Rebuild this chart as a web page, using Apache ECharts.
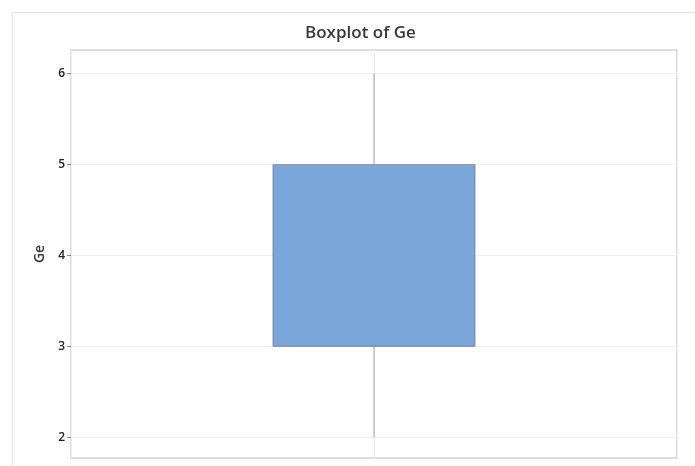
<!DOCTYPE html>
<html>
<head>
<meta charset="utf-8">
<script src="https://cdn.jsdelivr.net/npm/echarts@6/dist/echarts.min.js"></script>
<style>
  html, body { margin: 0; padding: 0; background: #fff; }
  #chart { width: 695px; height: 466px; }
</style>
</head>
<body>
<div id="chart"></div>
<script>
// data
var categories = ["Ge"];
// [min, Q1, median, Q3, max]
var boxValues = [[2, 3, 5, 5, 6]];
var yTicks = [2, 3, 4, 5, 6];

var chart = echarts.init(document.getElementById("chart"));

var boxData = boxValues.map(function (v, i) { return [i].concat(v); });

chart.setOption({
    animation: false,
    title: {
        text: "Boxplot of Ge",
        left: 300, top: 20,
        textStyle: {fontFamily: "Open Sans", fontSize: 17, fontWeight: 600, color: "#3a3a3a"}
    },
    graphic: [{
        type: "rect", left: 10, top: 10, z: -10,
        shape: {width: 700, height: 470},
        style: {fill: "none", stroke: "#e6e6e6", lineWidth: 1}
    }],
    grid: {left: 71, top: 50, right: 18, bottom: 8, show: true, borderColor: "#d4d4d4", borderWidth: 1.5},
    xAxis: [{
        type: "category", data: categories,
        axisLine: {show: false}, axisTick: {show: false}, axisLabel: {show: false}
    }, {
        type: "value", min: 0, max: 2, interval: 1,
        axisLine: {show: false}, axisTick: {show: false}, axisLabel: {show: false},
        splitLine: {show: true, lineStyle: {color: "#eeeeee"}}
    }],
    yAxis: {
        type: "value", min: 1.77, max: 6.26,
        name: "Ge", nameLocation: "middle", nameGap: 23, nameRotate: 90,
        nameTextStyle: {fontFamily: "Open Sans", fontSize: 14, fontWeight: 600, color: "#3a3a3a"},
        axisLine: {show: false},
        axisTick: {show: true, length: 4, customValues: yTicks, lineStyle: {color: "#888"}},
        axisLabel: {customValues: yTicks, margin: 6, fontFamily: "Open Sans", fontSize: 12, fontWeight: 600, color: "#222"},
        splitLine: {show: true, lineStyle: {color: "#eeeeee"}}
    },
    series: [{
        type: "custom",
        xAxisIndex: 0,
        data: boxData,
        encode: {x: 0, y: [1, 2, 3, 4, 5]},
        renderItem: function (params, api) {
            var x = api.value(0);
            var pMin = api.coord([x, api.value(1)]);
            var pQ1 = api.coord([x, api.value(2)]);
            var pMed = api.coord([x, api.value(3)]);
            var pQ3 = api.coord([x, api.value(4)]);
            var pMax = api.coord([x, api.value(5)]);
            var halfW = api.size([1, 0])[0] * 0.333 / 2;
            var cx = pQ1[0];
            return {
                type: "group",
                children: [{
                    type: "line",
                    shape: {x1: cx, y1: pMax[1], x2: cx, y2: pQ3[1]},
                    style: {stroke: "#a0a0a0", lineWidth: 1}
                }, {
                    type: "line",
                    shape: {x1: cx, y1: pQ1[1], x2: cx, y2: pMin[1]},
                    style: {stroke: "#a0a0a0", lineWidth: 1}
                }, {
                    type: "rect",
                    shape: {x: cx - halfW, y: pQ3[1], width: halfW * 2, height: pQ1[1] - pQ3[1]},
                    style: {fill: "#7ba6d9", stroke: "#6e82a3", lineWidth: 1}
                }, {
                    type: "line",
                    shape: {x1: cx - halfW, y1: pMed[1], x2: cx + halfW, y2: pMed[1]},
                    style: {stroke: "#a39a8a", lineWidth: 1.2}
                }]
            };
        }
    }]
});
</script>
</body>
</html>
